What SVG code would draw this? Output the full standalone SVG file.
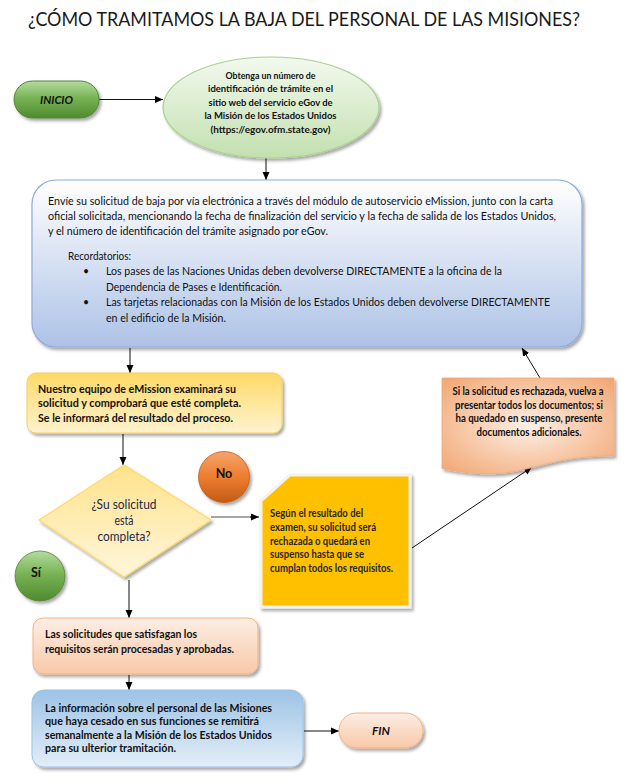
<svg xmlns="http://www.w3.org/2000/svg" width="633" height="784" viewBox="0 0 633 784">
<style>
.t{font-family:Lato,"Liberation Sans",sans-serif;font-size:10.5px;fill:#111;}
.b{font-weight:bold;}
.c{text-anchor:middle;}
.title{font-family:Lato,"Liberation Sans",sans-serif;font-size:19px;fill:#1a1a1a;}
.ln{stroke:#111;stroke-width:1;fill:none;marker-end:url(#ah);}
</style>
<defs>
<marker id="ah" markerUnits="userSpaceOnUse" markerWidth="8" markerHeight="8" refX="8" refY="4" orient="auto">
<path d="M0,0.5 L8,4 L0,7.5 Z" fill="#000"/>
</marker>
<filter id="sh" x="-10%" y="-10%" width="125%" height="130%">
<feDropShadow dx="2" dy="2.5" stdDeviation="1.5" flood-color="#000" flood-opacity="0.35"/>
</filter>
<linearGradient id="gGreen" x1="0" y1="0" x2="0" y2="1">
<stop offset="0" stop-color="#b5dba0"/><stop offset="0.45" stop-color="#78b455"/><stop offset="1" stop-color="#4f8a2e"/>
</linearGradient>
<linearGradient id="gEll" x1="0" y1="0" x2="0" y2="1">
<stop offset="0" stop-color="#f2f9ee"/><stop offset="1" stop-color="#c3e0b0"/>
</linearGradient>
<linearGradient id="gMain" x1="0" y1="0" x2="0" y2="1">
<stop offset="0" stop-color="#ffffff"/><stop offset="1" stop-color="#adc2e6"/>
</linearGradient>
<linearGradient id="gYel" x1="0" y1="0" x2="0" y2="1">
<stop offset="0" stop-color="#ffd966"/><stop offset="1" stop-color="#fff3cf"/>
</linearGradient>
<linearGradient id="gDia" x1="0" y1="0" x2="0" y2="1">
<stop offset="0" stop-color="#ffe28a"/><stop offset="1" stop-color="#fff6dc"/>
</linearGradient>
<linearGradient id="gOr" x1="0" y1="0" x2="0" y2="1">
<stop offset="0" stop-color="#f6a46b"/><stop offset="0.5" stop-color="#ed7d31"/><stop offset="1" stop-color="#c45a13"/>
</linearGradient>
<radialGradient id="gDoc" cx="0.5" cy="0.5" r="0.7">
<stop offset="0" stop-color="#fdf0e6"/><stop offset="1" stop-color="#f2a571"/>
</radialGradient>
<linearGradient id="gPeach" x1="0" y1="0" x2="0" y2="1">
<stop offset="0" stop-color="#fdeee4"/><stop offset="1" stop-color="#f8c8a8"/>
</linearGradient>
<linearGradient id="gBlue" x1="0" y1="0" x2="0" y2="1">
<stop offset="0" stop-color="#9dc3e6"/><stop offset="1" stop-color="#e3eef8"/>
</linearGradient>
</defs>

<rect width="633" height="784" fill="#ffffff"/>

<text class="title" x="28" y="26" textLength="552" lengthAdjust="spacingAndGlyphs">¿CÓMO TRAMITAMOS LA BAJA DEL PERSONAL DE LAS MISIONES?</text>

<g id="connectors">
<path class="ln" d="M99,99.5 L163,99.5"/>
<path class="ln" d="M266,158 L266,180"/>
<path class="ln" d="M130,348 L130,373"/>
<path class="ln" d="M123,434 L123,465"/>
<path d="M211,517 L252,517" stroke="#a6a6a6" stroke-width="2" fill="none"/>
<path class="ln" d="M250,517 L259,517"/>
<path class="ln" d="M412,548 L532,467"/>
<path class="ln" d="M540,378 L522,348"/>
<path class="ln" d="M129,580 L129,618"/>
<path class="ln" d="M129,675 L129,690"/>
<path class="ln" d="M304,731 L339,731"/>
</g>

<g id="inicio">
<rect x="14" y="81" width="85" height="37" rx="18.5" fill="url(#gGreen)" stroke="#548235" stroke-width="1" filter="url(#sh)"/>
<text class="t b c" x="56.5" y="103.5" style="font-style:italic;font-size:11.5px" textLength="33" lengthAdjust="spacingAndGlyphs">INICIO</text>
</g>

<g id="obtenga">
<ellipse cx="271" cy="107.5" rx="108" ry="50.5" fill="url(#gEll)" stroke="#a9d18e" stroke-width="1.2" filter="url(#sh)"/>
<text class="t b c" x="270.5" y="78.5" style="font-size:10px" textLength="90" lengthAdjust="spacingAndGlyphs">Obtenga un número de</text>
<text class="t b c" x="270.5" y="92" style="font-size:10px" textLength="125" lengthAdjust="spacingAndGlyphs">identificación de trámite en el</text>
<text class="t b c" x="270.5" y="105.5" style="font-size:10px" textLength="124" lengthAdjust="spacingAndGlyphs">sitio web del servicio eGov de</text>
<text class="t b c" x="270.5" y="119" style="font-size:10px" textLength="132" lengthAdjust="spacingAndGlyphs">la Misión de los Estados Unidos</text>
<text class="t b c" x="270.5" y="132.5" style="font-size:10px" textLength="120" lengthAdjust="spacingAndGlyphs">(https://egov.ofm.state.gov)</text>
</g>

<g id="envie">
<rect x="32" y="180" width="550" height="167" rx="24" fill="url(#gMain)" stroke="#8faadc" stroke-width="1.2" filter="url(#sh)"/>
<text class="t" x="48" y="205" textLength="505" lengthAdjust="spacingAndGlyphs">Envíe su solicitud de baja por vía electrónica a través del módulo de autoservicio eMission, junto con la carta</text>
<text class="t" x="48" y="220" textLength="508" lengthAdjust="spacingAndGlyphs">oficial solicitada, mencionando la fecha de finalización del servicio y la fecha de salida de los Estados Unidos,</text>
<text class="t" x="48" y="235" textLength="280" lengthAdjust="spacingAndGlyphs">y el número de identificación del trámite asignado por eGov.</text>
<text class="t" x="68" y="260" textLength="63" lengthAdjust="spacingAndGlyphs">Recordatorios:</text>
<text class="t" x="83" y="275">•</text>
<text class="t" x="106" y="275" textLength="396" lengthAdjust="spacingAndGlyphs">Los pases de las Naciones Unidas deben devolverse DIRECTAMENTE a la oficina de la</text>
<text class="t" x="106" y="291" textLength="176" lengthAdjust="spacingAndGlyphs">Dependencia de Pases e Identificación.</text>
<text class="t" x="83" y="306">•</text>
<text class="t" x="106" y="306" textLength="444" lengthAdjust="spacingAndGlyphs">Las tarjetas relacionadas con la Misión de los Estados Unidos deben devolverse DIRECTAMENTE</text>
<text class="t" x="106" y="322" textLength="120" lengthAdjust="spacingAndGlyphs">en el edificio de la Misión.</text>
</g>

<g id="examinara">
<rect x="27" y="373" width="255" height="60" rx="9" fill="url(#gYel)" stroke="#f5cf5a" stroke-width="1" filter="url(#sh)"/>
<text class="t b" x="38" y="393" textLength="198" lengthAdjust="spacingAndGlyphs">Nuestro equipo de eMission examinará su</text>
<text class="t b" x="38" y="407" textLength="203" lengthAdjust="spacingAndGlyphs">solicitud y comprobará que esté completa.</text>
<text class="t b" x="38" y="422" textLength="195" lengthAdjust="spacingAndGlyphs">Se le informará del resultado del proceso.</text>
</g>

<g id="rechazada-doc">
<path d="M442,378 H614 V455.8 C528,455.8 528,485.5 442,468.6 Z" fill="url(#gDoc)" stroke="#f0a878" stroke-width="0.8" filter="url(#sh)"/>
<text class="t b c" x="528" y="395" textLength="151" lengthAdjust="spacingAndGlyphs">Si la solicitud es rechazada, vuelva a</text>
<text class="t b c" x="529" y="408.5" textLength="148" lengthAdjust="spacingAndGlyphs">presentar todos los documentos; si</text>
<text class="t b c" x="529" y="422" textLength="147" lengthAdjust="spacingAndGlyphs">ha quedado en suspenso, presente</text>
<text class="t b c" x="529" y="435.5" textLength="105" lengthAdjust="spacingAndGlyphs">documentos adicionales.</text>
</g>

<g id="decision">
<path d="M124,465 L211,520 L124,577 L39,520 Z" fill="url(#gDia)" stroke="#ffd966" stroke-width="1.2" filter="url(#sh)"/>
<text class="t c" x="124" y="509" style="font-size:12.5px;fill:#1f2a44" textLength="65" lengthAdjust="spacingAndGlyphs">¿Su solicitud</text>
<text class="t c" x="124" y="525" style="font-size:12.5px;fill:#1f2a44" textLength="19" lengthAdjust="spacingAndGlyphs">está</text>
<text class="t c" x="124" y="541" style="font-size:12.5px;fill:#1f2a44" textLength="53" lengthAdjust="spacingAndGlyphs">completa?</text>
</g>

<g id="no">
<circle cx="224" cy="477" r="25.5" fill="url(#gOr)" stroke="#c55a11" stroke-width="0.8" filter="url(#sh)"/>
<text class="t b c" x="224" y="477.5" style="font-size:12.5px">No</text>
</g>

<g id="si">
<circle cx="40" cy="576" r="25" fill="url(#gGreen)" stroke="#548235" stroke-width="0.8" filter="url(#sh)"/>
<text class="t b c" x="36" y="577" style="font-size:12.5px">Sí</text>
</g>

<g id="segun">
<path d="M290,475 L410,475 L410,607 L261,607 L261,501 Z" fill="#ffc000" stroke="#f2f2f2" stroke-width="3" filter="url(#sh)"/>
<text class="t b" x="270" y="516.5" style="fill:#262626" textLength="93" lengthAdjust="spacingAndGlyphs">Según el resultado del</text>
<text class="t b" x="270" y="530.5" style="fill:#262626" textLength="106" lengthAdjust="spacingAndGlyphs">examen, su solicitud será</text>
<text class="t b" x="270" y="544.5" style="fill:#262626" textLength="100" lengthAdjust="spacingAndGlyphs">rechazada o quedará en</text>
<text class="t b" x="270" y="558" style="fill:#262626" textLength="94" lengthAdjust="spacingAndGlyphs">suspenso hasta que se</text>
<text class="t b" x="270" y="572" style="fill:#262626" textLength="123" lengthAdjust="spacingAndGlyphs">cumplan todos los requisitos.</text>
</g>

<g id="aprobadas">
<rect x="33" y="618" width="225" height="56" rx="10" fill="url(#gPeach)" stroke="#f4b183" stroke-width="1" filter="url(#sh)"/>
<text class="t b" x="45" y="637.5" textLength="152" lengthAdjust="spacingAndGlyphs">Las solicitudes que satisfagan los</text>
<text class="t b" x="45" y="652.5" textLength="189" lengthAdjust="spacingAndGlyphs">requisitos serán procesadas y aprobadas.</text>
</g>

<g id="informacion">
<rect x="32" y="690" width="271" height="77" rx="12" fill="url(#gBlue)" stroke="#9dc3e6" stroke-width="1" filter="url(#sh)"/>
<text class="t b" x="45" y="711.5" textLength="227" lengthAdjust="spacingAndGlyphs">La información sobre el personal de las Misiones</text>
<text class="t b" x="45" y="725" textLength="214" lengthAdjust="spacingAndGlyphs">que haya cesado en sus funciones se remitirá</text>
<text class="t b" x="45" y="738.5" textLength="227" lengthAdjust="spacingAndGlyphs">semanalmente a la Misión de los Estados Unidos</text>
<text class="t b" x="45" y="752" textLength="131" lengthAdjust="spacingAndGlyphs">para su ulterior tramitación.</text>
</g>

<g id="fin">
<rect x="339" y="713" width="84" height="35" rx="17.5" fill="url(#gPeach)" stroke="#f4b183" stroke-width="1" filter="url(#sh)"/>
<text class="t b c" x="381" y="735" style="font-style:italic;font-size:11.5px" textLength="18" lengthAdjust="spacingAndGlyphs">FIN</text>
</g>
</svg>
